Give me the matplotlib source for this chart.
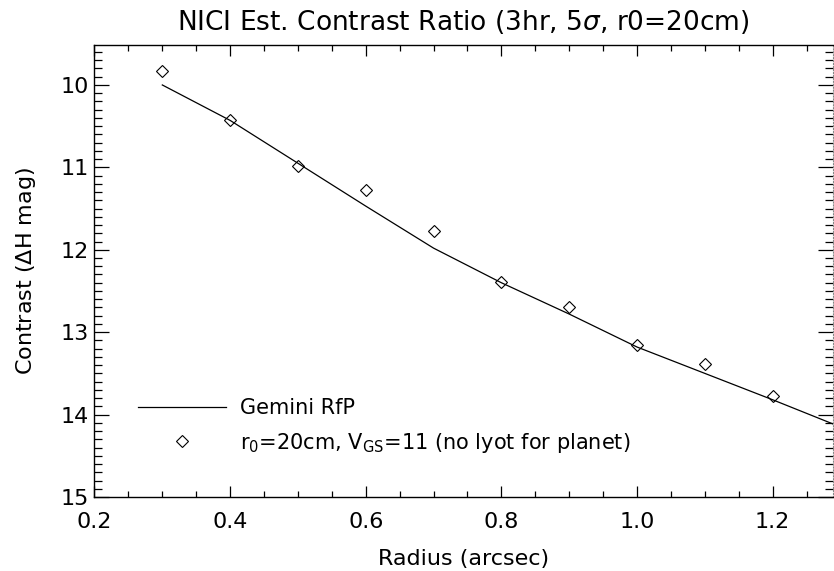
import numpy as np
import matplotlib
matplotlib.use('Agg')
import matplotlib.pyplot as plt
from matplotlib.ticker import MultipleLocator, FormatStrFormatter

# Gemini RfP curve (radius in arcsec, contrast in delta H mag)
rfp_radius = [0.3, 0.4, 0.5, 0.6, 0.7, 0.8, 0.9, 1.0, 1.1, 1.2, 1.3]
rfp_contrast = [10.0, 10.43, 10.95, 11.47, 11.98, 12.40, 12.78, 13.18, 13.50, 13.82, 14.15]

# r0=20cm, Vgs=11 points
pts_radius = [0.3, 0.4, 0.5, 0.6, 0.7, 0.8, 0.9, 1.0, 1.1, 1.2]
pts_contrast = [9.83, 10.43, 10.98, 11.28, 11.77, 12.39, 12.69, 13.15, 13.39, 13.77]

plt.rcParams['font.family'] = 'DejaVu Sans'

fig = plt.figure(figsize=(8.34, 5.71), dpi=100)
ax = fig.add_axes([0.1133, 0.1296, 0.8855, 0.7916])

ax.plot(rfp_radius, rfp_contrast, color='black', lw=0.9, label='Gemini RfP')
ax.plot(pts_radius, pts_contrast, ls='none', marker='D', ms=6.5, mfc='none',
        mec='black', mew=0.8,
        label=r'r$_0$=20cm, V$_{\mathrm{GS}}$=11 (no lyot for planet)')

ax.set_xlim(0.2, 1.289)
ax.set_ylim(15, 9.515)

ax.xaxis.set_major_locator(MultipleLocator(0.2))
ax.xaxis.set_minor_locator(MultipleLocator(0.05))
ax.yaxis.set_major_locator(MultipleLocator(1))
ax.yaxis.set_minor_locator(MultipleLocator(0.1))
ax.xaxis.set_major_formatter(FormatStrFormatter('%.1f'))

ax.tick_params(which='both', direction='in', top=True, right=True, width=0.9,
               labelsize=16, color='black')
ax.tick_params(axis='x', which='major', length=8, pad=11)
ax.tick_params(axis='x', which='minor', length=4.5)
ax.tick_params(axis='y', which='major', length=11, pad=4)
ax.tick_params(axis='y', which='minor', length=6)

for side in ['left', 'top', 'bottom']:
    ax.spines[side].set_linewidth(1.0)
ax.spines['right'].set_linestyle(':')
ax.spines['right'].set_color('#888888')

ax.set_title('NICI Est. Contrast Ratio (3hr, 5$\\sigma$, r0=20cm)', fontsize=19, pad=11)
ax.set_xlabel('Radius (arcsec)', fontsize=16, labelpad=12)
ax.set_ylabel('Contrast ($\\Delta$H mag)', fontsize=16, labelpad=16)

ax.legend(loc='center left', bbox_to_anchor=(0.059, 0.156), frameon=False,
          fontsize=15, handlelength=4.2, handletextpad=0.67, labelspacing=0.58,
          borderpad=0, borderaxespad=0)

fig.savefig('out.png', dpi=100)
